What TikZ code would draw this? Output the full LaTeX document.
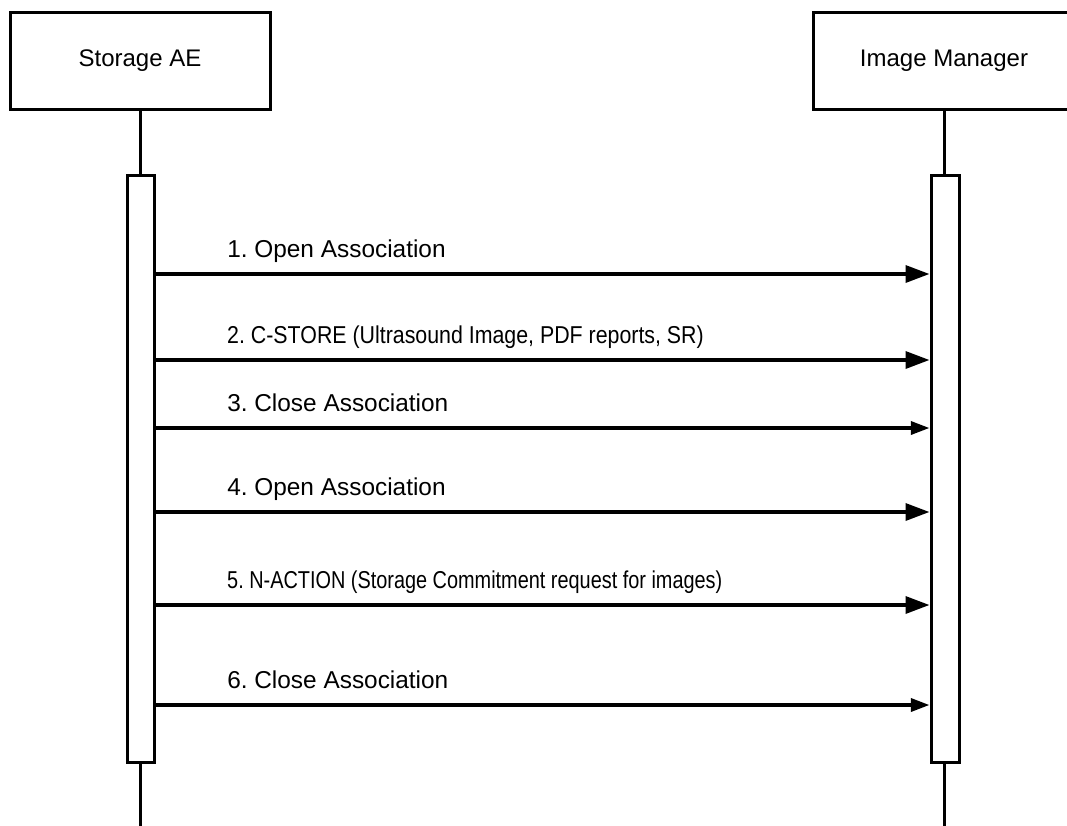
\documentclass[tikz,border=0pt]{standalone}
\usepackage{fontspec}
\setmainfont{Liberation Sans}
\frenchspacing
\usetikzlibrary{arrows.meta}

\tikzset{
    actor/.style={draw, line width=2.25pt, minimum width=195pt, minimum height=72.75pt, inner sep=0pt, font=\fontsize{18}{21}\selectfont},
    activation/.style={draw, fill=white, line width=2.25pt, minimum width=20.25pt, minimum height=440.25pt, inner sep=0pt},
    lifeline/.style={line width=2.25pt},
    bigmsg/.style={line width=2.6pt, -{Triangle[length=18pt, width=12.75pt]}},
    smallmsg/.style={line width=2.6pt, -{Triangle[length=14pt, width=9.75pt]}},
    msglabel/.style={anchor=base west, inner sep=0pt, font=\fontsize{18.3}{21}\selectfont}
}

\NewDocumentCommand{\drawmessage}{m m m m O{1}}{
    % name, y of the arrow, arrow style, text, squeeze of the text
    \coordinate (#1) at (0,#2);
    \draw[#3] (sbar.east |- #1) -- (ibar.west |- #1);
    \node[msglabel, xscale=#5] (#1text) at (227,#2-17) {#4};
}

\begin{document}
\begin{tikzpicture}[x=0.75pt, y=-0.75pt]
        \useasboundingbox (0,0) rectangle (1067,825);
        \clip (0,0) rectangle (1067,825);

        % Actors
        \node[actor] (sae) at (140,61) {Storage AE};
        \node[actor, minimum width=196.5pt] (im) at (944,61) {Image Manager};

        % Lifelines
        \coordinate (send) at (140,830);
        \coordinate (iend) at (944,830);
        \draw[lifeline] (sae.south) -- (send);
        \draw[lifeline] (im.south) -- (iend);

        % Activation bars
        \node[activation] (sbar) at (141,468.5) {};
        \node[activation, minimum width=21pt] (ibar) at (945,468.5) {};

        % Messages
        \drawmessage{m1}{274}{bigmsg}{1. Open Association}
        \drawmessage{m2}{360}{bigmsg}{2. C-STORE (Ultrasound Image, PDF reports, SR)}[0.875]
        \drawmessage{m3}{428}{smallmsg}{3. Close Association}
        \drawmessage{m4}{512}{bigmsg}{4. Open Association}
        \drawmessage{m5}{605}{bigmsg}{5. N-ACTION (Storage Commitment request for images)}[0.815]
        \drawmessage{m6}{705}{smallmsg}{6. Close Association}

    \end{tikzpicture}
\end{document}
